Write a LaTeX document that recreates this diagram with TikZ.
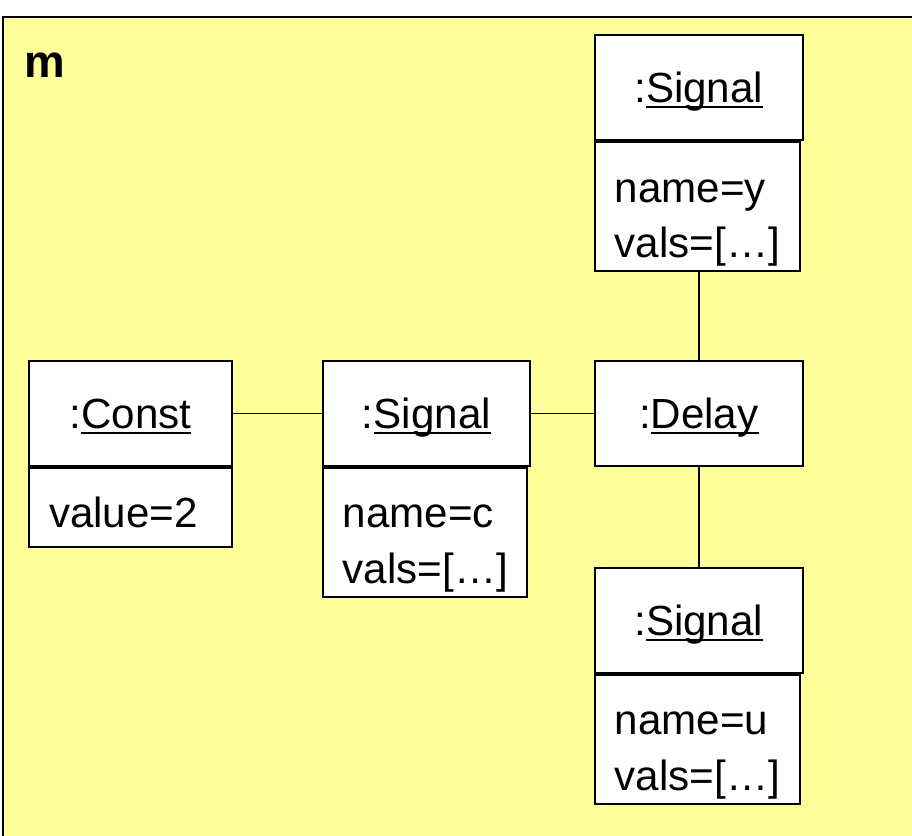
\documentclass[tikz,border=0pt]{standalone}
\usepackage{fontspec}
\setmainfont{Liberation Sans}
\usepackage{tikz}
\usetikzlibrary{positioning}

\definecolor{pkgyellow}{RGB}{255,255,153}
\newcommand{\objname}[1]{\setbox0\hbox{#1}\rlap{\rule[-0.13em]{\wd0}{0.05em}}\box0}

\tikzset{
  objhead/.style={draw, fill=white, line width=1.1pt, minimum width=4.16cm, minimum height=2.1cm, inner sep=0pt, text height=0.6cm, text depth=0pt},
  objbody/.style={draw, fill=white, line width=1.1pt, anchor=north west, align=left, inner xsep=0.4cm, inner ysep=0pt, text height=0.9cm, text depth=1.08cm},
  link/.style={line width=1pt}
}

\begin{document}
\begin{tikzpicture}[x=0.02cm, y=-0.02cm, font=\fontsize{24}{31.5}\selectfont]
\clip (0,0) rectangle (912,835);
\draw[fill=pkgyellow, line width=1.3pt] (3,17) rectangle (960,880);
\node[anchor=base west, font=\fontsize{26}{30}\selectfont\bfseries, inner sep=0pt] (m) at (24,77) {m};

\node[objhead, minimum width=4.06cm] (const) at (130.5,413.5) {:\objname{Const}};
\node[objbody, minimum width=4.06cm, minimum height=1.58cm, text width=3.26cm, text height=0.8cm, text depth=0pt] (constv) at (const.south west) {value=2};

\node[objhead, minimum width=4.14cm, right=1.78cm of const] (sigc) {:\objname{Signal}};
\node[objbody, minimum width=4.08cm, minimum height=2.58cm, text width=3.28cm] (sigcv) at (sigc.south west) {name=c\\vals=[\dots]};

\node[objhead, right=1.26cm of sigc] (delay) {:\objname{Delay}};

\node[objbody, minimum width=4.1cm, minimum height=2.58cm, text width=3.3cm, anchor=south west] (sigyv) at ([yshift=1.76cm]delay.north west) {name=y\\vals=[\dots]};
\node[objhead, anchor=south west] (sigy) at (sigyv.north west) {:\objname{Signal}};

\node[objhead, below=2.0cm of delay] (sigu) {:\objname{Signal}};
\node[objbody, minimum width=4.1cm, minimum height=2.58cm, text width=3.3cm] (siguv) at (sigu.south west) {name=u\\vals=[\dots]};

\draw[link] (const) -- (sigc);
\draw[link] (sigc) -- (delay);
\draw[link] (delay.north) -- (delay.north |- sigyv.south);
\draw[link] (delay.south) -- (sigu.north);
\end{tikzpicture}
\end{document}
